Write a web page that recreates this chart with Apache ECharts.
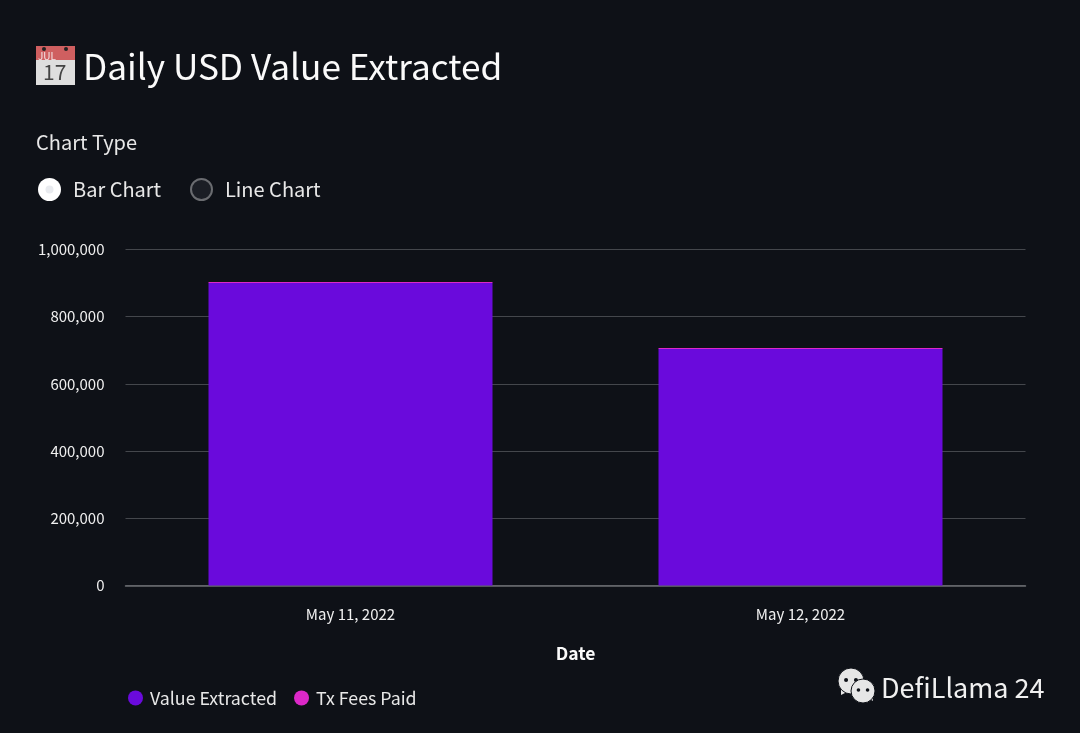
<!DOCTYPE html>
<html><head><meta charset="utf-8">
<script src="https://cdn.jsdelivr.net/npm/echarts@6/dist/echarts.min.js"></script>
<style>html,body{margin:0;padding:0;background:#0e1117}#c{width:1080px;height:733px}</style>
</head><body><div id="c"></div>
<script>
const categories = ['May 11, 2022', 'May 12, 2022'];
const valueExtracted = [900000, 704000];
const txFeesPaid = [3000, 3000];
const yTicks = {min: 0, max: 1000000, interval: 200000};
const seriesNames = ['Value Extracted', 'Tx Fees Paid'];
const font = '"Noto Sans CJK SC","Noto Sans",sans-serif';
const txt = (x, y, text, size, color, extra) => ({type:'text', x, y, style:Object.assign({text, font:`${size}px ${font}`, fill:color, textVerticalAlign:'middle'}, extra||{})});
const chart = echarts.init(document.getElementById('c'), null, {renderer:'canvas'});
const bubble = (cx, cy, r, eye, ex) => [
  {type:'polygon', shape:{points:ex}, style:{fill:'#e6e6e6'}},
  {type:'circle', shape:{cx, cy, r}, style:{fill:'#e6e6e6', stroke:'#0e1117', lineWidth:1}},
  {type:'circle', shape:{cx:cx-r*0.38, cy:cy-1, r:eye}, style:{fill:'#0e1117'}},
  {type:'circle', shape:{cx:cx+r*0.38, cy:cy-1, r:eye}, style:{fill:'#0e1117'}}
];
chart.setOption({
  backgroundColor:'#0e1117',
  animation:false,
  textStyle:{fontFamily:font},
  grid:{left:125.5, right:54.5, top:249.5, bottom:147.5, containLabel:false},
  xAxis:{type:'category', data:categories, name:'Date', nameLocation:'middle', nameGap:59,
    nameTextStyle:{color:'#fafafa', fontSize:17.5, fontWeight:'bold', fontFamily:font},
    axisLine:{lineStyle:{color:'#6b6d71', width:1.5}}, axisTick:{show:false},
    axisLabel:{color:'#f0f0f0', fontSize:15, margin:21, fontFamily:font}},
  yAxis:{type:'value', min:yTicks.min, max:yTicks.max, interval:yTicks.interval,
    axisLine:{show:false}, axisTick:{show:false},
    splitLine:{lineStyle:{color:'#44474c', width:1.2}},
    axisLabel:{color:'#f0f0f0', fontSize:15, margin:21, fontFamily:font,
      formatter:v=>v.toLocaleString('en-US')}},
  legend:{left:123, top:684, icon:'circle', itemWidth:15, itemHeight:15, itemGap:17,
    data:seriesNames, textStyle:{color:'#e8e8e8', fontSize:17.8, fontFamily:font, padding:[0,0,0,2]}},
  series:[
    {name:seriesNames[0], type:'bar', stack:'a', data:valueExtracted, barWidth:284, itemStyle:{color:'#6a0adc'}},
    {name:seriesNames[1], type:'bar', stack:'a', data:txFeesPaid, barWidth:284, itemStyle:{color:'#dc28c8'}}
  ],
  graphic:{elements:[
    {type:'rect', shape:{x:36,y:46,width:39,height:39}, style:{fill:'#dedede'}},
    {type:'rect', shape:{x:36,y:46,width:39,height:14}, style:{fill:'#cf5f60'}},
    {type:'circle', shape:{cx:44,cy:49,r:2}, style:{fill:'#222'}},
    {type:'circle', shape:{cx:66,cy:49,r:2}, style:{fill:'#222'}},
    txt(38,56,'JUL',10,'#f4e6e6'),
    txt(43,72,'17',21,'#444'),
    txt(83,67,'Daily USD Value Extracted',35.2,'#fafafa'),
    txt(36,142,'Chart Type',20,'#e8e8e8'),
    {type:'circle', shape:{cx:49.5,cy:189.5,r:11.5}, style:{fill:'#ffffff'}},
    {type:'circle', shape:{cx:49.5,cy:189.5,r:4}, style:{fill:'#e9ebef'}},
    txt(73,189,'Bar Chart',20,'#e8e8e8'),
    {type:'circle', shape:{cx:201.5,cy:189.5,r:10.5}, style:{fill:'#1b1e25', stroke:'#6a6c70', lineWidth:2}},
    txt(225,189,'Line Chart',20,'#e8e8e8'),
    ...bubble(851,681,13,2,[[841,688],[841,695],[849,691]]),
    ...bubble(863,691,12,1.8,[[868,698],[873,701],[872,694]]),
    txt(881,688,'DefiLlama 24',27,'#f0f0f0')
  ]}
});
</script></body></html>
